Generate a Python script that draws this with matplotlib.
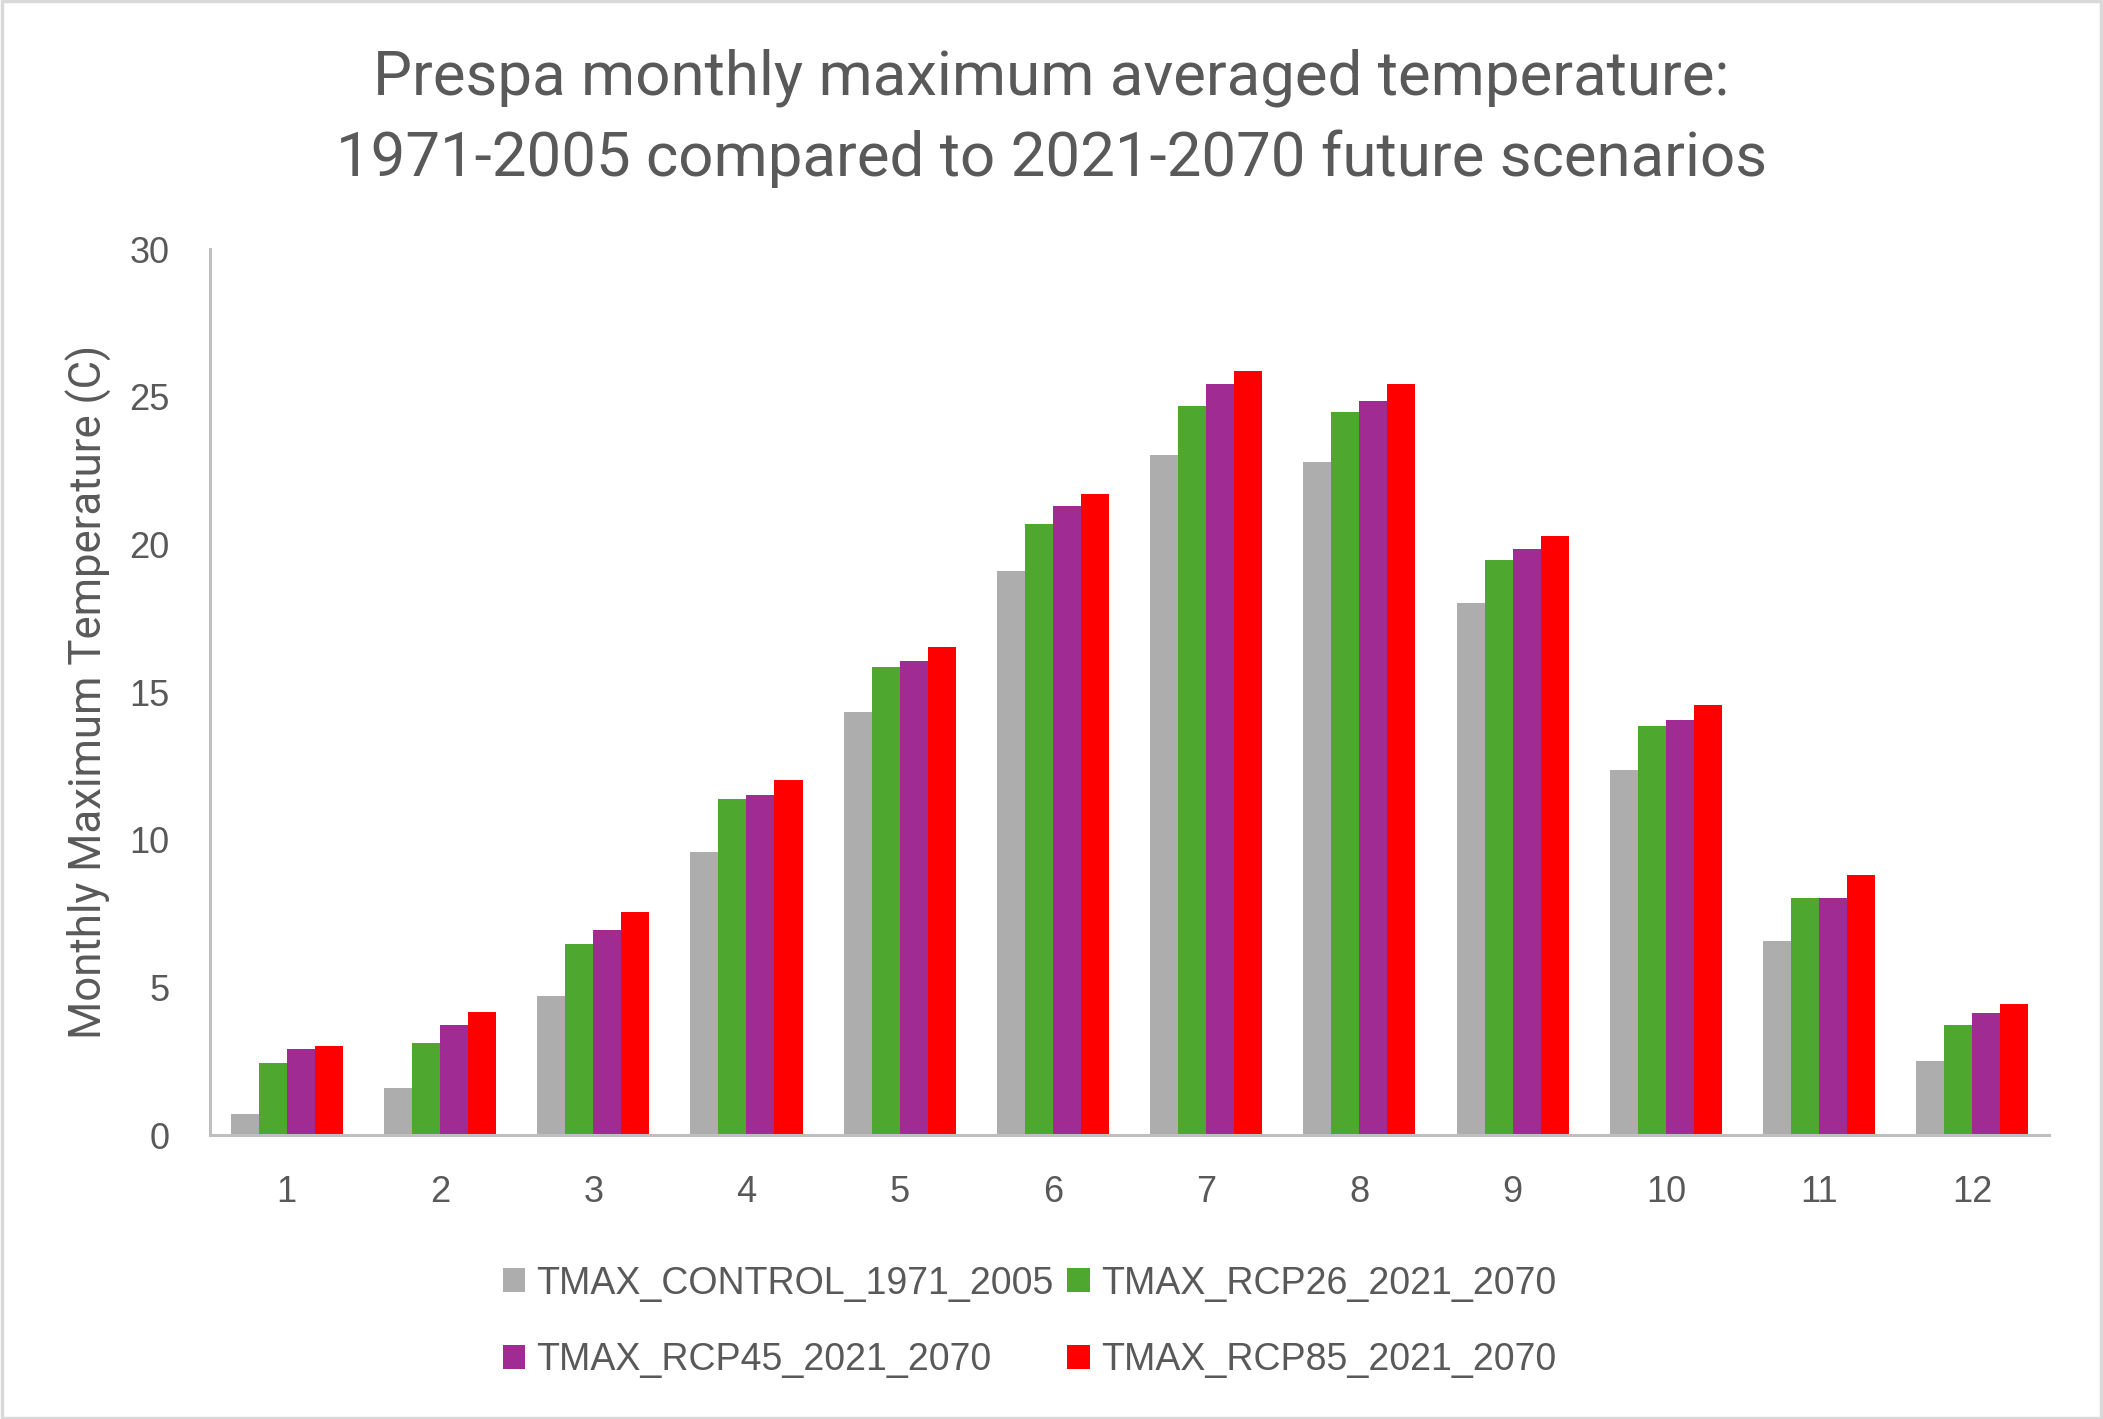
import matplotlib
matplotlib.use("Agg")
import matplotlib.pyplot as plt
import matplotlib.patches as mpatches
import numpy as np

months = ["1", "2", "3", "4", "5", "6", "7", "8", "9", "10", "11", "12"]

tmax_control = [0.72, 1.59, 4.71, 9.60, 14.33, 19.09, 23.02, 22.78, 18.03, 12.35, 6.58, 2.50]
tmax_rcp26 = [2.45, 3.12, 6.48, 11.39, 15.86, 20.68, 24.67, 24.47, 19.46, 13.84, 8.03, 3.74]
tmax_rcp45 = [2.92, 3.74, 6.96, 11.53, 16.06, 21.31, 25.43, 24.87, 19.86, 14.04, 8.03, 4.14]
tmax_rcp85 = [3.00, 4.17, 7.55, 12.03, 16.54, 21.69, 25.86, 25.43, 20.28, 14.57, 8.79, 4.43]

series_names = ["TMAX_CONTROL_1971_2005", "TMAX_RCP26_2021_2070",
                "TMAX_RCP45_2021_2070", "TMAX_RCP85_2021_2070"]
colors = ["#adadad", "#4ea72e", "#a02b93", "#ff0000"]

text_col = "#595959"
axis_col = "#bfbfbf"

fig = plt.figure(figsize=(21.03, 14.19), dpi=100)
ax = fig.add_axes([0.0999, 0.2001, 0.8744, 0.6244])

x = np.arange(len(months))
w = 0.183
all_series = [tmax_control, tmax_rcp26, tmax_rcp45, tmax_rcp85]
bars = []
for i, vals in enumerate(all_series):
    b = ax.bar(x + (i - 1.5) * w, vals, width=w, color=colors[i],
               label=series_names[i], zorder=2)
    bars.append(b)

ax.set_xlim(-0.5, len(months) - 0.5)
ax.set_ylim(0, 30)
ax.set_yticks(range(0, 31, 5))
ax.set_xticks(x)
ax.set_xticklabels(months)

for s in ["top", "right"]:
    ax.spines[s].set_visible(False)
for s in ["left", "bottom"]:
    ax.spines[s].set_color(axis_col)
    ax.spines[s].set_linewidth(2.2)

ax.tick_params(axis="both", length=0, pad=29, labelsize=26, labelcolor=text_col)
for lab in ax.get_xticklabels() + ax.get_yticklabels():
    lab.set_fontfamily(["Liberation Sans", "DejaVu Sans"])

ax.set_ylabel("Monthly Maximum Temperature (C)", fontsize=31.5, color=text_col,
              fontfamily=["Roboto", "DejaVu Sans"])
ax.yaxis.set_label_coords(-0.0535, 0.5)

fig.text(0.5, 0.9165,
         "Prespa monthly maximum averaged temperature:\n1971-2005 compared to 2021-2070 future scenarios",
         ha="center", va="center", fontsize=44.5, color=text_col,
         fontfamily=["Roboto", "DejaVu Sans"], linespacing=1.48)

# legend is filled column by column, so order it to read row by row
order = [0, 2, 1, 3]
fig.legend([bars[i] for i in order], [series_names[i] for i in order],
           loc="center", bbox_to_anchor=(0.4895, 0.0685), ncol=2, frameon=False,
           prop={"family": ["Liberation Sans", "DejaVu Sans"], "size": 27},
           labelcolor=text_col, handlelength=0.6, handleheight=0.6,
           handletextpad=0.3, columnspacing=0.35, labelspacing=1.08)

# light grey frame around the whole chart
fig.patches.append(mpatches.Rectangle((0.001, 0.001), 0.998, 0.998, transform=fig.transFigure,
                                      fill=False, edgecolor="#d9d9d9", linewidth=2.5))

fig.savefig("out.png", dpi=100)
